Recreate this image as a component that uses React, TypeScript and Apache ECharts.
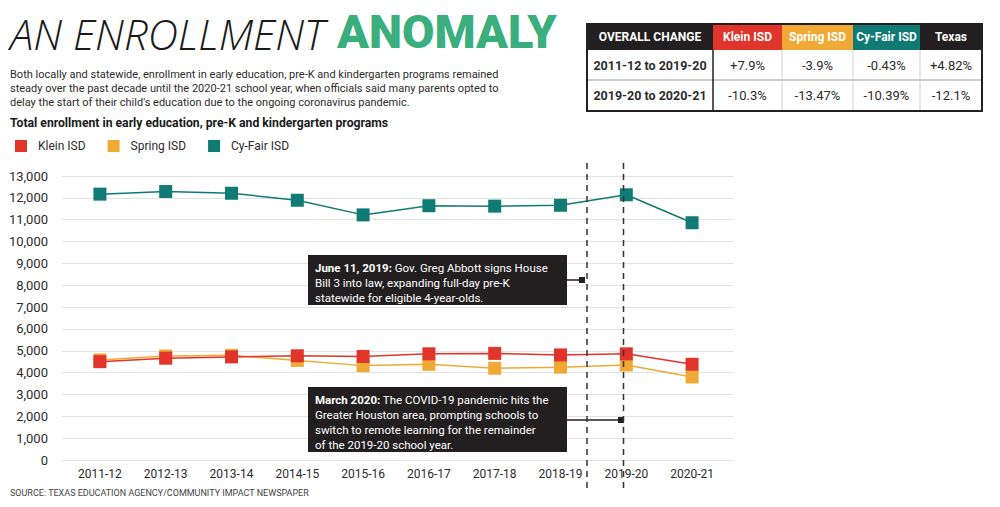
import React, { useEffect, useRef } from 'react';
import * as echarts from 'echarts';

const categories = ['2011-12', '2012-13', '2013-14', '2014-15', '2015-16', '2016-17', '2017-18', '2018-19', '2019-20', '2020-21'];
const kleinISD = [4500, 4660, 4720, 4770, 4740, 4860, 4880, 4810, 4860, 4380];
const springISD = [4580, 4760, 4790, 4560, 4320, 4380, 4200, 4250, 4350, 3800];
const cyFairISD = [12170, 12290, 12210, 11890, 11220, 11640, 11620, 11660, 12140, 10860];
const yMin = 0;
const yMax = 13000;
const yStep = 1000;

const tableHeaders = ['OVERALL CHANGE', 'Klein ISD', 'Spring ISD', 'Cy-Fair ISD', 'Texas'];
const tableRowLabels = ['2011-12 to 2019-20', '2019-20 to 2020-21'];
const tableKlein = ['+7.9%', '-10.3%'];
const tableSpring = ['-3.9%', '-13.47%'];
const tableCyFair = ['-0.43%', '-10.39%'];
const tableTexas = ['+4.82%', '-12.1%'];

const titleThin = 'AN ENROLLMENT';
const titleBold = 'ANOMALY';
const subtitleLines = [
  'Both locally and statewide, enrollment in early education, pre-K and kindergarten programs remained',
  'steady over the past decade until the 2020-21 school year, when officials said many parents opted to',
  "delay the start of their child's education due to the ongoing coronavirus pandemic.",
];
const chartTitle = 'Total enrollment in early education, pre-K and kindergarten programs';
const note1Bold = 'June 11, 2019:';
const note1Lines = [' Gov. Greg Abbott signs House', 'Bill 3 into law, expanding full-day pre-K', 'statewide for eligible 4-year-olds.'];
const note2Bold = 'March 2020:';
const note2Lines = [' The COVID-19 pandemic hits the', 'Greater Houston area, prompting schools to', 'switch to remote learning for the remainder', 'of the 2019-20 school year.'];
const sourceText = 'SOURCE: TEXAS EDUCATION AGENCY/COMMUNITY IMPACT NEWSPAPER';

const RED = '#e1352b';
const ORANGE = '#efa934';
const TEAL = '#0f7b74';
const GREEN = '#3aaf7d';
const DARK = '#231f20';
const TEXT = '#2b2b2b';
const FONT = "Roboto, sans-serif";

function buildTable(): any[] {
  const cols = [587, 713, 782, 853, 920, 982];
  const rows = [24, 50, 80, 111];
  const headerFills = [DARK, RED, ORANGE, TEAL, DARK];
  const els: any[] = [];
  els.push({ type: 'rect', shape: { x: cols[0], y: rows[0], width: cols[5] - cols[0], height: rows[3] - rows[0] }, style: { fill: '#fff' } });
  tableHeaders.forEach((h, i) => {
    els.push({ type: 'rect', shape: { x: cols[i], y: rows[0], width: cols[i + 1] - cols[i], height: rows[1] - rows[0] }, style: { fill: headerFills[i] } });
    els.push({
      type: 'text', x: (cols[i] + cols[i + 1]) / 2, y: (rows[0] + rows[1]) / 2,
      style: { text: h, fill: '#fff', font: `bold 12px ${FONT}`, align: 'center', verticalAlign: 'middle' },
    });
  });
  const valueCols = [tableKlein, tableSpring, tableCyFair, tableTexas];
  tableRowLabels.forEach((label, r) => {
    const cy = (rows[r + 1] + rows[r + 2]) / 2;
    els.push({
      type: 'text', x: (cols[0] + cols[1]) / 2, y: cy,
      style: { text: label, fill: TEXT, font: `bold 12.5px ${FONT}`, align: 'center', verticalAlign: 'middle' },
    });
    valueCols.forEach((vals, c) => {
      els.push({
        type: 'text', x: (cols[c + 1] + cols[c + 2]) / 2, y: cy,
        style: { text: vals[r], fill: TEXT, font: `13px ${FONT}`, align: 'center', verticalAlign: 'middle' },
      });
    });
  });
  els.push({ type: 'line', shape: { x1: cols[0], y1: rows[2], x2: cols[5], y2: rows[2] }, style: { stroke: '#9a9a9a', lineWidth: 1 } });
  for (let c = 2; c < 5; c++) {
    els.push({ type: 'line', shape: { x1: cols[c], y1: rows[1], x2: cols[c], y2: rows[3] }, style: { stroke: '#cfcfcf', lineWidth: 1 } });
  }
  els.push({ type: 'line', shape: { x1: cols[1], y1: rows[1], x2: cols[1], y2: rows[3] }, style: { stroke: DARK, lineWidth: 1.5 } });
  els.push({ type: 'rect', shape: { x: cols[0], y: rows[0], width: cols[5] - cols[0], height: rows[3] - rows[0] }, style: { fill: 'none', stroke: DARK, lineWidth: 2 } });
  return els;
}

function noteBox(x: number, y: number, w: number, h: number, bold: string, lines: string[], lineY: number, lineX2: number): any[] {
  const text = `{b|${bold}}{r|${lines[0]}}\n` + lines.slice(1).map((l) => `{r|${l}}`).join('\n');
  return [
    { type: 'rect', z: 100, shape: { x, y, width: w, height: h }, style: { fill: DARK } },
    {
      type: 'text', z: 101, x: x + 7, y: y + 5,
      style: {
        text, fill: '#fff', font: `11.5px ${FONT}`, lineHeight: 15,
        rich: {
          b: { fill: '#fff', fontFamily: FONT, fontSize: 11.5, fontWeight: 'bold', lineHeight: 15 },
          r: { fill: '#fff', fontFamily: FONT, fontSize: 11.5, lineHeight: 15 },
        },
      },
    },
    { type: 'line', z: 100, shape: { x1: x + w, y1: lineY, x2: lineX2, y2: lineY }, style: { stroke: DARK, lineWidth: 1.5 } },
    { type: 'rect', z: 100, shape: { x: lineX2 - 3, y: lineY - 3, width: 6, height: 6 }, style: { fill: DARK } },
  ];
}

export default function App() {
  const ref = useRef<HTMLDivElement>(null);
  useEffect(() => {
    if (!ref.current) return;
    const chart = echarts.init(ref.current, undefined, { renderer: 'svg' });
    const seriesStyle = (name: string, data: number[], color: string, z: number) => ({
      name, type: 'line', data, xAxisIndex: 1, yAxisIndex: 1,
      symbol: 'rect', symbolSize: 13, z,
      itemStyle: { color }, lineStyle: { color, width: 1.5 },
    });
    const option: any = {
      animation: false,
      backgroundColor: '#fff',
      textStyle: { fontFamily: FONT },
      legend: {
        data: ['Klein ISD', 'Spring ISD', 'Cy-Fair ISD'],
        left: 10, top: 135, icon: 'rect', itemWidth: 12, itemHeight: 12, itemGap: 22,
        textStyle: { color: TEXT, fontSize: 12, fontFamily: FONT, padding: [0, 0, 0, 6] },
      },
      grid: [
        { left: 62, right: 267, top: 176, bottom: 47 },
        { left: 67, right: 275, top: 176, bottom: 47 },
      ],
      xAxis: [
        { type: 'category', gridIndex: 0, data: categories, show: false },
        {
          type: 'category', gridIndex: 1, data: categories, boundaryGap: true,
          axisLine: { show: false }, axisTick: { show: false }, splitLine: { show: false },
          axisLabel: { color: TEXT, fontSize: 12, fontFamily: FONT, margin: 8, interval: 0 },
        },
      ],
      yAxis: [
        {
          type: 'value', gridIndex: 0, min: yMin, max: yMax, interval: yStep,
          axisLine: { show: false }, axisTick: { show: false },
          splitLine: { lineStyle: { color: '#e2e2e2', width: 1 } },
          axisLabel: {
            color: TEXT, fontSize: 13, fontFamily: FONT, margin: 14,
            formatter: (v: number) => v.toLocaleString('en-US'),
          },
        },
        { type: 'value', gridIndex: 1, min: yMin, max: yMax, interval: yStep, show: false, splitLine: { show: false } },
      ],
      series: [
        seriesStyle('Spring ISD', springISD, ORANGE, 2),
        seriesStyle('Cy-Fair ISD', cyFairISD, TEAL, 3),
        seriesStyle('Klein ISD', kleinISD, RED, 4),
      ],
      graphic: [
        { type: 'text', x: 10, y: 54, style: { text: titleThin, fill: '#1a1a1a', font: `italic 300 42px 'Open Sans', sans-serif`, verticalAlign: 'bottom' } },
        { type: 'text', x: 337, y: 55, style: { text: titleBold, fill: GREEN, font: `900 47px Roboto, sans-serif`, verticalAlign: 'bottom' } },
        { type: 'text', x: 10, y: 67, style: { text: subtitleLines.join('\n'), fill: TEXT, font: `11px ${FONT}`, lineHeight: 14.3 } },
        { type: 'text', x: 10, y: 117, style: { text: chartTitle, fill: '#1a1a1a', font: `bold 12.2px ${FONT}` } },
        ...buildTable(),
        { type: 'line', z: 110, shape: { x1: 587, y1: 163, x2: 587, y2: 488 }, style: { stroke: '#333', lineWidth: 1.5, lineDash: [6, 5] } },
        { type: 'line', z: 110, shape: { x1: 623.5, y1: 163, x2: 623.5, y2: 488 }, style: { stroke: '#333', lineWidth: 1.5, lineDash: [6, 5] } },
        ...noteBox(308, 255, 259, 50, note1Bold, note1Lines, 280, 582),
        ...noteBox(308, 387, 259, 65, note2Bold, note2Lines, 420, 621),
        { type: 'text', x: 10, y: 488, style: { text: sourceText, fill: '#444', font: `9px ${FONT}` } },
      ],
    };
    chart.setOption(option);
    return () => chart.dispose();
  }, []);
  return <div ref={ref} style={{ position: 'fixed', left: 0, top: 0, width: 1000, height: 507 }} />;
}
